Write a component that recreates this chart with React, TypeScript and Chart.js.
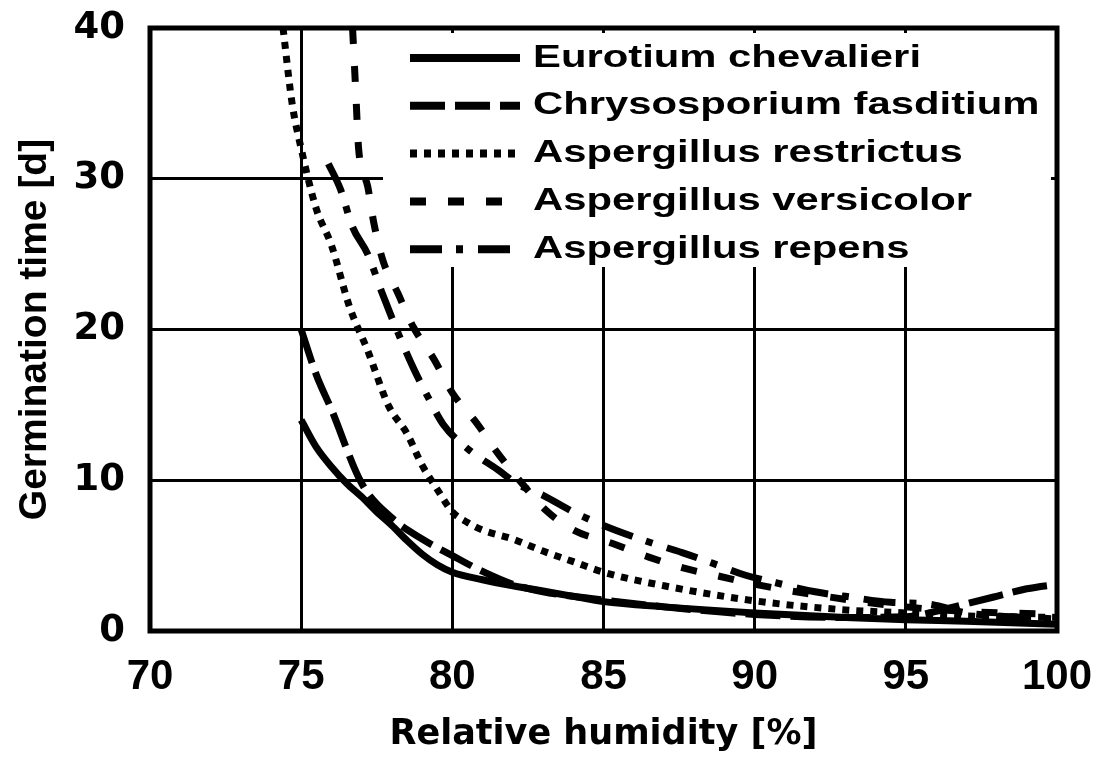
import React, { useEffect, useRef } from "react";
import { Chart, registerables } from "chart.js";

Chart.register(...registerables);

const seriesNames = [
  "Eurotium chevalieri",
  "Chrysosporium fasditium",
  "Aspergillus restrictus",
  "Aspergillus versicolor",
  "Aspergillus repens",
];

const xTickValues = [70, 75, 80, 85, 90, 95, 100];
const yTickValues = [0, 10, 20, 30, 40];

const eurotiumX = [75, 75.5, 76, 76.5, 77, 77.5, 78, 78.5, 79, 79.5, 80, 81, 82, 83, 84, 85, 87, 90, 93, 95, 97, 100];
const eurotiumY = [14.0, 12.2, 10.9, 9.8, 8.9, 7.9, 7.0, 6.0, 5.1, 4.4, 3.9, 3.4, 3.0, 2.65, 2.3, 1.95, 1.6, 1.2, 0.9, 0.75, 0.65, 0.45];

const chrysoX = [75, 75.5, 76, 77, 78, 79, 80, 81, 82, 83, 84, 85, 87, 90, 93, 95, 96, 97, 98, 99, 100];
const chrysoY = [20, 17.0, 14.7, 9.8, 7.5, 6.1, 5.0, 3.95, 3.1, 2.6, 2.3, 2.05, 1.6, 1.1, 0.9, 0.95, 1.3, 1.8, 2.3, 2.8, 3.1];

const restrictusX = [74.4, 74.7, 75, 75.5, 76, 76.6, 77.2, 77.9, 78.5, 79, 79.5, 80, 80.5, 81, 82, 83, 84, 85, 87, 90, 93, 95, 97, 100];
const restrictusY = [40, 35, 32, 28, 25.6, 21.5, 18.6, 14.9, 13.1, 11.0, 9.4, 7.9, 7.2, 6.7, 6.1, 5.3, 4.6, 3.9, 3.0, 2.0, 1.4, 1.2, 1.0, 0.9];

const versicolorX = [76.7, 76.8, 76.9, 77.2, 77.4, 77.7, 78.2, 78.7, 79.4, 80, 80.8, 81.5, 82.3, 83.1, 84, 85.3, 86.5, 87.6, 88.9, 90, 92, 95, 97, 100];
const versicolorY = [40, 36, 32, 29.5, 27.1, 24.6, 22.4, 20.2, 18.0, 15.8, 13.8, 11.8, 9.8, 8.0, 6.7, 5.8, 4.9, 4.2, 3.6, 3.1, 2.4, 1.6, 1.3, 1.1];

const repensX = [75.9, 76.3, 76.7, 77.2, 77.7, 78.2, 78.7, 79.2, 79.7, 80.5, 81.5, 82.2, 83, 84, 85, 86.5, 87.6, 88.6, 89.7, 90.7, 92, 93, 94.5, 95.7, 97, 98, 100];
const repensY = [31.0, 29.3, 26.8, 25.0, 22.3, 19.8, 17.5, 15.5, 13.7, 12.1, 10.7, 9.7, 9.0, 7.9, 7.0, 5.9, 5.2, 4.5, 3.7, 3.2, 2.6, 2.3, 1.9, 1.8, 1.2, 1.0, 0.8];

const dashes: number[][] = [[], [35, 10], [7, 7], [16, 22], [32, 14, 7, 15]];

const framePlugin = {
  id: "frameLegend",
  beforeDatasetsDraw(chart: any) {
    const { ctx, chartArea: a } = chart;
    ctx.save();
    ctx.fillStyle = "#ffffff";
    ctx.fillRect(a.left + 233, a.top + 5, a.right - a.left - 239, 234);
    ctx.restore();
  },
  afterDatasetsDraw(chart: any) {
    const { ctx, chartArea: a } = chart;
    ctx.save();
    ctx.font = 'bold 31px "Liberation Sans", Arial, sans-serif';
    const sx = 388 / ctx.measureText(seriesNames[0]).width;
    chart.data.datasets.forEach((ds: any, i: number) => {
      const y = a.top + 30 + i * 47.8;
      ctx.beginPath();
      ctx.setLineDash(ds.borderDash || []);
      ctx.lineWidth = 8;
      ctx.strokeStyle = "#000";
      ctx.lineCap = "butt";
      ctx.moveTo(a.left + 260, y);
      ctx.lineTo(a.left + 370, y);
      ctx.stroke();
      ctx.setLineDash([]);
      ctx.save();
      ctx.translate(a.left + 383, y);
      ctx.scale(sx, 1);
      ctx.textBaseline = "middle";
      ctx.textAlign = "left";
      ctx.fillStyle = "#000";
      ctx.fillText(ds.label, 0, 0);
      ctx.restore();
    });
    ctx.setLineDash([]);
    ctx.lineWidth = 5;
    ctx.strokeStyle = "#000";
    ctx.strokeRect(a.left, a.top, a.right - a.left, a.bottom - a.top);
    ctx.restore();
  },
};

const zeroPad = (s: any) => {
  s.paddingTop = 0;
  s.paddingBottom = 0;
  s.paddingLeft = 0;
  s.paddingRight = 0;
};

export default function App() {
  const ref = useRef<HTMLCanvasElement>(null);
  useEffect(() => {
    const xs = [eurotiumX, chrysoX, restrictusX, versicolorX, repensX];
    const ys = [eurotiumY, chrysoY, restrictusY, versicolorY, repensY];
    const datasets = seriesNames.map((name, i) => ({
      label: name,
      data: xs[i].map((x, j) => ({ x, y: ys[i][j] })),
      borderColor: "#000",
      backgroundColor: "#000",
      borderWidth: 7,
      borderDash: dashes[i],
      borderCapStyle: "butt" as const,
      pointRadius: 0,
      cubicInterpolationMode: "monotone" as const,
      fill: false,
    }));
    const chart = new Chart(ref.current as HTMLCanvasElement, {
      type: "line",
      data: { datasets },
      plugins: [framePlugin],
      options: {
        animation: false,
        responsive: false,
        devicePixelRatio: 1,
        layout: { padding: { top: 28, right: 46, left: 0, bottom: 0 } },
        plugins: { legend: { display: false }, tooltip: { enabled: false } },
        scales: {
          x: {
            type: "linear",
            min: xTickValues[0],
            max: xTickValues[xTickValues.length - 1],
            afterBuildTicks: (s: any) => { s.ticks = xTickValues.map((v) => ({ value: v })); },
            afterFit: (s: any) => { s.height = 129; zeroPad(s); },
            ticks: {
              color: "#000",
              padding: 25,
              maxRotation: 0,
              autoSkip: false,
              font: { family: '"Liberation Sans Narrow", "Liberation Sans", Arial, sans-serif', weight: "bold", size: 42, lineHeight: 1 },
            },
            grid: { color: "#000", lineWidth: 3, drawTicks: false },
            border: { display: false },
            title: {
              display: true,
              text: "Relative humidity [%]",
              color: "#000",
              font: { family: '"DejaVu Sans", sans-serif', weight: "bold", size: 35, lineHeight: 1 },
              padding: { top: 0, bottom: 8 },
            },
          },
          y: {
            type: "linear",
            min: yTickValues[0],
            max: yTickValues[yTickValues.length - 1],
            afterBuildTicks: (s: any) => { s.ticks = yTickValues.map((v) => ({ value: v })); },
            afterFit: (s: any) => { s.width = 150; zeroPad(s); },
            ticks: {
              color: "#000",
              padding: 25,
              autoSkip: false,
              font: { family: '"DejaVu Sans", sans-serif', weight: "bold", size: 37, lineHeight: 1 },
            },
            grid: { color: "#000", lineWidth: 3, drawTicks: false },
            border: { display: false },
            title: {
              display: true,
              text: "Germination time [d]",
              color: "#000",
              font: { family: '"Liberation Sans", Arial, sans-serif', weight: "bold", size: 39, lineHeight: 1 },
              padding: { top: 16, bottom: 0 },
            },
          },
        },
      },
    });
    return () => chart.destroy();
  }, []);
  return (
    <div style={{ position: "fixed", left: 0, top: 0, width: 1103, height: 760, background: "#fff" }}>
      <canvas ref={ref} width={1103} height={760} style={{ width: 1103, height: 760 }} />
    </div>
  );
}
